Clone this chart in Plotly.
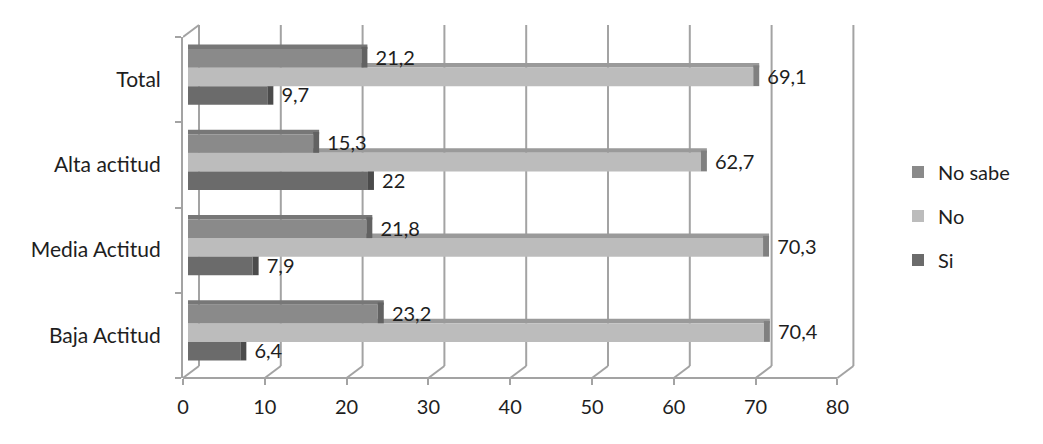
import plotly.graph_objects as go

# ---- data ----
categories = ["Baja Actitud", "Media Actitud", "Alta actitud", "Total"]
si = [6.4, 7.9, 22, 9.7]
no = [70.4, 70.3, 62.7, 69.1]
no_sabe = [23.2, 21.8, 15.3, 21.2]
series_names = ["Si", "No", "No sabe"]
legend_rank = {"No sabe": 1, "No": 2, "Si": 3}
x_ticks = [0, 10, 20, 30, 40, 50, 60, 70, 80]
x_ticklabels = ["0", "10", "20", "30", "40", "50", "60", "70", "80"]

# ---- styling ----
FONT = "Lato"
TXT = "#1e1e1e"
GRID = "#a3a3a3"
PXU = 8.18              # pixels per unit
FRONT = -5 / PXU        # front plane offset (units)
BACK = 11 / PXU         # back wall offset (units)
SIDE = 6 / PXU          # bar side-face depth (units)
BODY = 8                # browser default body margin
W, H = 1043 - BODY, 444 - BODY
ML, MT = 183 - BODY, 37 - BODY
plot_w, plot_h = 677, 341
MR = W - ML - plot_w
MB = H - MT - plot_h
BACK_DY = 12 / plot_h

PITCH = 85.0
face_w = 18.5 / PITCH
band_w = 4.5 / PITCH
offsets = {"Si": -25 / PITCH, "No": -6.5 / PITCH, "No sabe": 12 / PITCH}
colors = {
    "Si": ("#6b6b6b", "#575757", "#4b4b4b"),
    "No": ("#bcbcbc", "#9a9a9a", "#808080"),
    "No sabe": ("#8a8a8a", "#777777", "#626262"),
}
values = {"Si": si, "No": no, "No sabe": no_sabe}


def fmt(v):
    return "\u00a0" + (f"{v:g}").replace(".", ",")


fig = go.Figure()
for name in series_names:
    vals = values[name]
    face_c, band_c, side_c = colors[name]
    off = offsets[name]
    # top band
    fig.add_trace(go.Bar(
        y=categories, x=[v + SIDE for v in vals], orientation="h",
        offset=off + face_w, width=band_w, marker=dict(color=band_c, line_width=0),
        showlegend=False, hoverinfo="skip"))
    # front face
    fig.add_trace(go.Bar(
        y=categories, x=vals, orientation="h", name=name, legendgroup=name,
        legendrank=legend_rank[name],
        offset=off, width=face_w, marker=dict(color=face_c, line_width=0)))
    # side face with label
    fig.add_trace(go.Bar(
        y=categories, x=[SIDE] * len(vals), base=vals, orientation="h",
        offset=off, width=face_w + band_w * 0.5, marker=dict(color=side_c, line_width=0),
        text=[fmt(v) for v in vals], textposition="outside", constraintext="none",
        textfont=dict(family=FONT, size=20, color=TXT), cliponaxis=False,
        showlegend=False, hoverinfo="skip"))

shapes = []
for v in x_ticks:
    shapes.append(dict(type="line", xref="x", yref="paper", x0=v + BACK, x1=v + BACK,
                       y0=BACK_DY, y1=1 + BACK_DY, line=dict(color=GRID, width=2), layer="below"))
    shapes.append(dict(type="line", xref="x", yref="paper", x0=v + FRONT, x1=v + BACK,
                       y0=0, y1=BACK_DY, line=dict(color=GRID, width=2), layer="below"))
shapes.append(dict(type="line", xref="x", yref="paper", x0=x_ticks[0] + FRONT, x1=x_ticks[-1] + FRONT,
                   y0=0, y1=0, line=dict(color=GRID, width=2), layer="below"))
shapes.append(dict(type="line", xref="x", yref="paper", x0=x_ticks[0] + FRONT, x1=x_ticks[0] + BACK,
                   y0=1, y1=1 + BACK_DY, line=dict(color=GRID, width=2), layer="below"))

fig.update_layout(
    width=W, height=H, barmode="overlay",
    margin=dict(l=ML, r=MR, t=MT, b=MB, autoexpand=False),
    paper_bgcolor="white", plot_bgcolor="white",
    font=dict(family=FONT, size=20, color=TXT),
    shapes=shapes,
    xaxis=dict(range=[FRONT, FRONT + plot_w / PXU], tickvals=[v + FRONT for v in x_ticks],
               ticktext=x_ticklabels, showgrid=False, zeroline=False, showline=False,
               automargin=False, ticklabelstandoff=5,
               ticks="outside", ticklen=6, tickwidth=2, tickcolor=GRID,
               tickfont=dict(family=FONT, size=20, color=TXT)),
    yaxis=dict(type="category", categoryorder="array", categoryarray=categories,
               range=[-0.5, 3.5], showgrid=False, zeroline=False, showline=True,
               automargin=False,
               linecolor=GRID, linewidth=2, ticks="outside", tickson="boundaries",
               ticklen=6, tickwidth=2, tickcolor=GRID, ticklabelstandoff=16,
               tickfont=dict(family=FONT, size=21, color=TXT)),
    legend=dict(x=(898 - BODY - ML) / plot_w, xanchor="left", y=0.475, yanchor="middle",
                traceorder="grouped", tracegroupgap=15, itemsizing="constant",
                font=dict(family=FONT, size=20, color=TXT), bgcolor="rgba(0,0,0,0)"),
)

fig.write_html("out.html")
